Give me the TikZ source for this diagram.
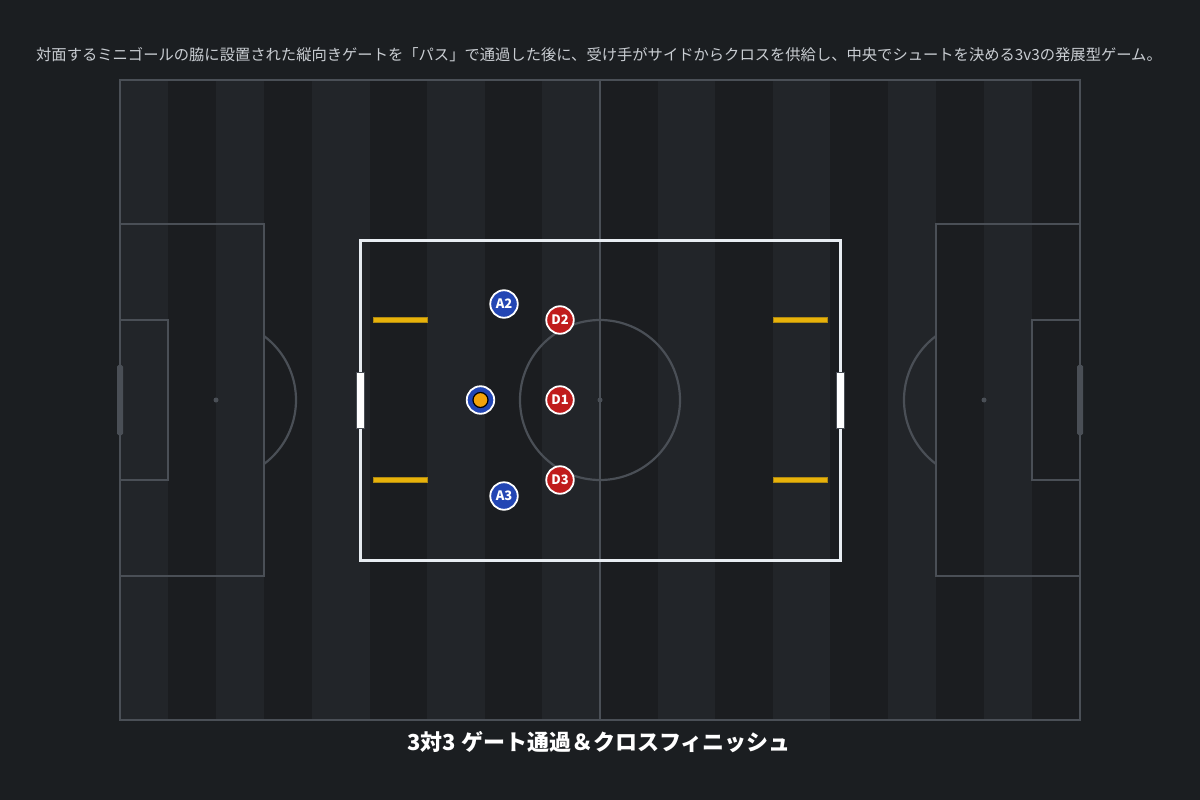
\documentclass[tikz,border=0pt]{standalone}
\usepackage{fontspec}
\setmainfont{Noto Sans CJK JP}
\usetikzlibrary{calc}
\definecolor{bg}{HTML}{1B1E21}
\definecolor{stripeL}{HTML}{222529}
\definecolor{stripeD}{HTML}{1B1D20}
\definecolor{pline}{HTML}{4A4F56}
\definecolor{drill}{HTML}{E8EDF2}
\definecolor{gate}{HTML}{E8B20A}
\definecolor{gateedge}{HTML}{B08A10}
\definecolor{attblue}{HTML}{2346B4}
\definecolor{defred}{HTML}{C01C1C}
\definecolor{ballc}{HTML}{F5A30A}
\definecolor{captxt}{HTML}{C9CDD2}
\tikzset{
  pitchline/.style={draw=pline, line width=2.2pt},
  player/.style={circle, draw=white, line width=1.8pt, minimum size=27.5pt, inner sep=0pt,
    text=white, font=\bfseries\fontsize{13}{13}\selectfont},
  att/.style={player, fill=attblue},
  def/.style={player, fill=defred},
  gatebar/.style={fill=gate, draw=gateedge, line width=0.6pt},
  minigoal/.style={fill=white, draw=pline, line width=0.6pt},
  biggoal/.style={fill=pline, rounded corners=1.5pt},
}
\begin{document}
\begin{tikzpicture}[x=1pt,y=-1pt]
\useasboundingbox (0,0) rectangle (1200,800);
\fill[bg] (0,0) rectangle (1200,800);
% stripes
\fill[stripeD] (120,80) rectangle (1080,720);
\foreach \a/\b in {120/168,216/264,312/369.6,427.2/484.8,542.4/600,657.6/715.2,772.8/830.4,888/936,984/1032}
  \fill[stripeL] (\a,80) rectangle (\b,720);
% pitch markings
\draw[pitchline] (120,80) rectangle (1080,720);
\draw[pitchline] (600,80) -- (600,720);
\draw[pitchline] (600,400) circle[radius=80pt];
\fill[pline] (600,400) circle[radius=2.5pt];
\draw[pitchline] (120,224) rectangle (264,576);
\draw[pitchline] (120,320) rectangle (168,480);
\fill[pline] (216,400) circle[radius=2.5pt];
\begin{scope}
  \clip (265,80) rectangle (600,720);
  \draw[pitchline] (216,400) circle[radius=80pt];
\end{scope}
\draw[pitchline] (936,224) rectangle (1080,576);
\draw[pitchline] (1032,320) rectangle (1080,480);
\fill[pline] (984,400) circle[radius=2.5pt];
\begin{scope}
  \clip (600,80) rectangle (935,720);
  \draw[pitchline] (984,400) circle[radius=80pt];
\end{scope}
\fill[biggoal] (117,365) rectangle (123,435);
\fill[biggoal] (1077,365) rectangle (1083,435);
% drill area
\draw[drill, line width=3pt] (360,240) rectangle (840,560);
\filldraw[minigoal] (356,372) rectangle (364,428);
\filldraw[minigoal] (836,372) rectangle (844,428);
% gates
\filldraw[gatebar] (373,317.5) rectangle (427,322.5);
\filldraw[gatebar] (373,477.5) rectangle (427,482.5);
\filldraw[gatebar] (773,317.5) rectangle (827,322.5);
\filldraw[gatebar] (773,477.5) rectangle (827,482.5);
% players
\node[att] (A1) at (480.5,400) {};
\node[circle, fill=ballc, draw=black, line width=1.2pt, minimum size=15pt, inner sep=0pt] (ball) at (A1) {};
\node[att] (A2) at (504,304) {A2};
\node[att] (A3) at (504,496) {A3};
\node[def] (D1) at (560,400) {D1};
\node[def] (D2) at (560,320) {D2};
\node[def] (D3) at (560,480) {D3};
% texts
\node[text=captxt, font=\fontsize{15.3}{18}\selectfont, inner sep=0pt] (cap) at (599,55)
  {対面するミニゴールの脇に設置された縦向きゲートを「パス」で通過した後に、受け手がサイドからクロスを供給し、中央でシュートを決める3v3の発展型ゲーム。};
\node[text=white, font=\bfseries\fontsize{22}{26}\selectfont, inner sep=0pt] (title) at (599,742)
  {3対3 ゲート通過＆クロスフィニッシュ};
\end{tikzpicture}
\end{document}
